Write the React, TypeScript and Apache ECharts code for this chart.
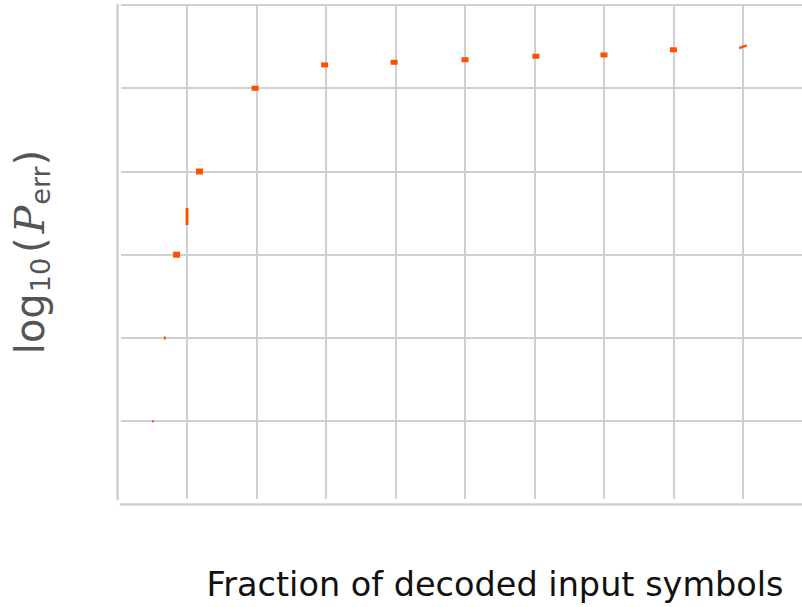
import React, { useEffect, useRef } from "react";
import * as echarts from "echarts";

// Fraction of decoded input symbols (x) and log10(Perr) (y)
const fractions = [0.051, 0.068, 0.085, 0.1, 0.118, 0.198, 0.298, 0.398, 0.5, 0.602, 0.7, 0.8, 0.9];
const logPerr = [-5.0, -4.0, -3.0, -2.54, -2.0, -1.0, -0.72, -0.688, -0.657, -0.616, -0.6, -0.538, -0.502];

// marker styling (shape of each small mark)
const markSizes: number[][] = [
  [2, 2], [2, 3], [7, 6], [3, 17], [7, 6], [7, 5], [7, 5], [7, 5], [7, 5], [7, 5], [7, 5], [7, 5], [8, 2.5],
];
const markRotations = [0, 0, 0, 0, 0, 0, 0, 0, 0, 0, 0, 0, 20];

const xName = "Fraction of decoded input symbols";
const yName = "{n|log}{s|10}{o|(}{i|P}{s|err}{c|)}";

export default function App() {
  const ref = useRef<HTMLDivElement>(null);
  useEffect(() => {
    if (!ref.current) return;
    const chart = echarts.init(ref.current, undefined, { renderer: "svg" });
    const grid = "#d0d0d0";
    const yc = "#555";
    chart.setOption({
      animation: false,
      backgroundColor: "#ffffff",
      grid: { left: 121, top: 5, right: 0, bottom: 108, containLabel: false, outerBoundsMode: "none" },
      xAxis: {
        type: "value",
        min: 0.005,
        max: 0.985,
        splitNumber: 10,
        minInterval: 0.1,
        maxInterval: 0.1,
        offset: 5.5,
        axisLine: { show: true, onZero: false, lineStyle: { color: grid, width: 2.5 } },
        axisTick: { show: false },
        axisLabel: { show: false },
        splitLine: { show: true, showMinLine: false, showMaxLine: false, lineStyle: { color: grid, width: 2 } },
        name: xName,
        nameLocation: "middle",
        nameGap: 63,
        nameTextStyle: {
          color: "#111",
          fontFamily: "DejaVu Sans",
          fontSize: 33.5,
          padding: [0, 0, 0, 67],
        },
      },
      yAxis: {
        type: "value",
        min: -5.934,
        max: 0,
        splitNumber: 6,
        minInterval: 1,
        maxInterval: 1,
        offset: 3.5,
        axisLine: { show: true, onZero: false, lineStyle: { color: grid, width: 2.5 } },
        axisTick: { show: false },
        axisLabel: { show: false },
        splitLine: { show: true, showMinLine: false, lineStyle: { color: grid, width: 2 } },
        name: yName,
        nameLocation: "middle",
        nameGap: 64,
        nameTextStyle: {
          color: yc,
          fontFamily: "DejaVu Sans",
          fontSize: 40,
          rich: {
            n: { fontFamily: "DejaVu Sans", fontSize: 40, color: yc, lineHeight: 48 },
            o: { fontFamily: "DejaVu Sans", fontSize: 40, color: yc, lineHeight: 48, padding: [0, 4, 0, 4] },
            c: { fontFamily: "DejaVu Sans", fontSize: 40, color: yc, lineHeight: 48 },
            s: { fontFamily: "DejaVu Sans", fontSize: 27, color: yc, lineHeight: 27, verticalAlign: "bottom", padding: [0, 1, 0, 1] },
            i: { fontFamily: "DejaVu Serif", fontStyle: "italic", fontSize: 41, color: yc, lineHeight: 48 },
          },
        },
      },
      series: [
        {
          type: "scatter",
          symbol: "rect",
          itemStyle: { color: "#ff5000", opacity: 1 },
          data: fractions.map((f, i) => ({
            value: [f, logPerr[i]],
            symbolSize: markSizes[i],
            symbolRotate: markRotations[i],
          })),
        },
      ],
    });
    return () => chart.dispose();
  }, []);
  return (
    <div
      ref={ref}
      style={{ position: "fixed", left: 0, top: 0, width: 802, height: 607, background: "#fff" }}
    />
  );
}
